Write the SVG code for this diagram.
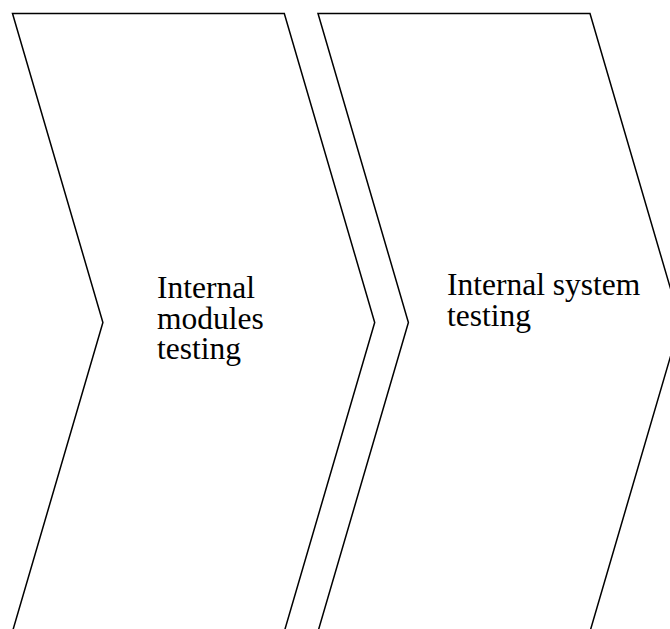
<svg xmlns="http://www.w3.org/2000/svg" width="670" height="629" viewBox="0 0 670 629">
  <style>
    .chevron { fill: #ffffff; stroke: #000000; stroke-width: 1.5; stroke-linejoin: miter; }
    .label { font-family: "Liberation Serif", "Times New Roman", serif; font-size: 31.5px; fill: #000000; }
  </style>
  <rect width="670" height="629" fill="#ffffff"/>
  <g id="step-internal-modules">
    <polygon class="chevron" points="12.5,13.5 284.3,13.5 374.7,322.5 284.3,631.5 12.5,631.5 102.9,322.5"/>
    <text class="label">
      <tspan x="157" y="298">Internal</tspan>
      <tspan x="157" y="328.5">modules</tspan>
      <tspan x="157" y="359">testing</tspan>
    </text>
  </g>
  <g id="step-internal-system">
    <polygon class="chevron" points="318,13.5 590,13.5 680.4,322.5 590,631.5 318,631.5 408.4,322.5"/>
    <text class="label">
      <tspan x="447" y="295">Internal system</tspan>
      <tspan x="447" y="325.5">testing</tspan>
    </text>
  </g>
  <g id="connectors"/>
</svg>
